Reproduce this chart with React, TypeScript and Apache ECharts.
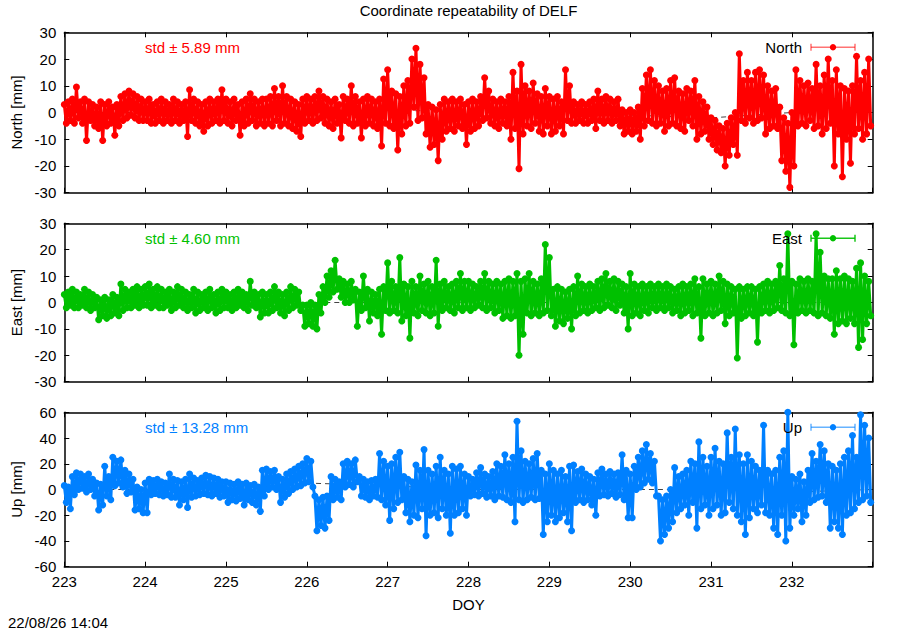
import React, { useEffect, useRef } from "react";
import * as echarts from "echarts";

// Sampling of the series (day of year): one sample every 0.025 day
const START_DOY = 223;
const STEP_DAYS = 0.025;

// North residuals [mm]
const north = [
  3, -4, 4, -3, 5, -4, 9.5, -2, 4, -4, 5, -10.5, 4, -3, 3, -5, 2, -6, 4, -10.5,
  3, -5, 4, -4, 2, -8.5, 3, -5, 6, -3, 7, -2, 8, -1, 7, -2, 6, -3, 5, -3,
  4, -3, 5, -4, 3, -4, 4, -3, 5, -4, 4, -3, 3, -4, 5, -3, 4, -4, 3, -3,
  4, -9, 8.5, -3, 5, -4, 4, -5, 3, -7, 4, -5, 5, -4, 4, -3, 5, -4, 8.5, -3,
  5, -4, 4, -5, 5, -3, 3, -8.5, 4, -5, 5, -4, 7, -3, 5, -5, 4, -4, 5, -5,
  5, -4, 6, -5, 9, -3, 6, -5, 10, -4, 6, -5, 5, -6, 4, -7, 3, -9, 5, -4,
  6, -3, 5, -4, 6, -3, 8, -2, 6, -4, 5, -5, 4, -6, 5, -4, 3, -9.5, 6, -3,
  5, -4, 10, -5, 6, -4, 4, -9.5, 5, -5, 6, -4, 5, -5, 4, -6, 5, -12.5, 12.5, -4,
  16, -5, 8, -6, 7, -14, 6, -8, 10, -5, 12, -4, 20, 2, 24, -3, 18, -2, 13, -8,
  3, -13, 2, -12, 1, -18, 3, -10, 5, -7, 4, -6, 5, -7, 4, -5, 5, -6, 3, -12,
  4, -7, 5, -6, 4, -5, 6, -3, 13, -2, 8, -4, 5, -5, 4, -6, 5, -4, 4, -5,
  6, -10, 15, -6, 8, -21, 18, -8, 10, -5, 8, -6, 11, -4, 7, -7, 6, -8, 9, -5,
  6, -8, 5, -7, 6, -5, 4, -8, 16, -3, 10, -4, 4, -4, 3, -3, 4, -4, 3, -4,
  4, -3, 5, -6, 8, -3, 5, -4, 6, -3, 5, -4, 4, -3, 5, -5, 1, -8, 0, -7,
  1, -8, 0, -7, 2, -10, 9, -5, 14, -3, 16, -4, 12, -5, 10, -4, 8, -7, 9, -5,
  12, -4, 13, -5, 8, -6, 7, -7, 9, -3, 8, -5, 12, -10, 6, -8, 4, -7, 2, -10,
  -2, -12, -3, -14, -5, -15, -6, -20, -4, -16, -2, -12, 0, -16, 22, -3, 12, -4, 15, -2,
  12, -4, 15, -3, 16, -2, 14, -8, 10, -6, 8, -5, 9, -6, 2, -18, -2, -22, -4, -28,
  0, -20, 16, -5, 12, -4, 10, -5, 11, -3, 9, -6, 18, -5, 10, -8, 14, -6, 20, -4,
  12, -20, 16, -8, 10, -24, 9, -10, 8, -19, 10, -8, 21, -6, 12, -10, 15, -8, 20, -5,
];

// East residuals [mm]
const east = [
  3, -2, 4, -1, 5, -2, 4, -2, 3, -1, 5, -2, 4, -3, 3, -2, 2, -6.5, 1, -5,
  2, -6, 1, -5, 3, -4, 2, -5, 7, -3, 5, -2, 4, -2, 5, -1, 6, -2, 5, -1,
  6, -1, 7, -2, 5, -1, 6, -2, 5, -2, 4, -1, 5, -3, 4, -2, 6, -1, 5, -2,
  4, -3, 3, -2, 5, -4, 4, -3, 3, -2, 4, -3, 5, -2, 3, -4, 4, -3, 5, -2,
  4, -2, 3, -3, 4, -2, 5, -1, 4, -2, 3, -3, 8, -1, 4, -2, 3, -5.5, 4, -4,
  3, -4, 4, -3, 6, -2, 4, -4, 3, -5, 4, -3, 6, -2, 5, -1, 4, -3, -1, -9,
  -1, -8, 0, -9, -1, -10, 3, -4, 6, 0, 10, 2, 12, 4, 16, 5, 9, 2, 8, 0,
  7, 0, 8, 1, 5, -9, 4, -3, 10, -2, 5, -7, 4, -4, 3, -5, 5, -12, 6, -3,
  15, -4, 8, -3, 6, -4, 17, -7, 7, -5, 6, -13.5, 8, -4, 6, -5, 10, -3, 7, -4,
  8, -5, 6, -4, 16, -9, 7, -3, 8, -2, 6, -3, 7, -4, 8, -2, 11, -3, 8, -2,
  8, -3, 7, -2, 6, -1, 8, -2, 11, -3, 8, -2, 7, -4, 8, -3, 7, -6, 8, -5,
  9, -6, 8, -5, 11, -20, 8, -12, 9, -4, 11, -5, 8, -4, 7, -5, 9, -4, 22, -3,
  17, -5, 5, -9, 6, -7, 5, -8, 4, -6, 5, -10, 6, -5, 10, -4, 7, -3, 6, -4,
  7, -3, 6, -2, 8, -3, 9, -2, 11, -1, 8, -2, 9, -3, 8, -1, 7, -4, 6, -10,
  11, -5, 7, -4, 6, -5, 7, -3, 6, -4, 7, -2, 6, -3, 7, -2, 6, -3, 7, -2,
  6, -4, 5, -3, 6, -5, 7, -4, 6, -3, 7, -5, 9, -4, 6, -13.5, 9, -5, 7, -4,
  8, -5, 7, -4, 10, -3, 8, -8, 7, -5, 6, -4, 5, -21, 6, -6, 5, -5, 6, -4,
  6, -5, 5, -15, 6, -4, 7, -3, 8, -4, 7, -3, 8, -2, 14, -3, 9, -4, 26, -5,
  8, -16, 7, -4, 9, -3, 8, -4, 9, -3, 8, -4, 26, -5, 19, -4, 10, -5, 9, -6,
  9, -12, 12, -8, 9, -7, 10, -8, 9, -6, 8, -8, 13, -17, 15, -14, 10, -8, 8, -5,
];

// Up residuals [mm]
const up = [
  3, -10, 2, -15, 10, -4, 13, 0, 12, 1, 10, -2, 12, 0, 8, -5, 5, -16, 4, -12,
  18, -5, 10, -8, 25, 3, 22, 5, 23, 2, 15, -3, 12, -2, 8, -16, 2, -15, 0, -18,
  5, -18, 8, -4, 7, -3, 8, -4, 6, -5, 5, -4, 12, -6, 8, -6, 7, -12, 6, -8,
  8, -14, 12, -6, 9, -5, 7, -4, 9, -3, 11, -4, 10, -5, 9, -3, 8, -6, 6, -5,
  6, -10, 5, -8, 4, -9, 6, -7, 4, -12, 5, -8, 3, -10, 4, -12, 2, -17, 15, -5,
  16, 0, 14, 2, 15, 0, 10, -10, 8, -6, 12, -3, 14, 0, 16, 2, 18, 3, 20, 5,
  24, 6, 22, 2, -5, -32, -8, -28, -6, -30, -5, -24, 10, -8, 8, -6, 6, -8, 20, 2,
  22, 4, 20, 2, 23, 6, 10, -5, 8, -6, 6, -8, 7, -5, 8, -6, 28, -8, 22, -12,
  18, -24, 20, -15, 25, -10, 29, -8, 10, -18, 8, -25, 6, -20, 19, -22, 15, -15, 31, -36,
  15, -20, 12, -18, 18, -22, 25, -15, 15, -20, 12, -34, 18, -20, 16, -18, 18, -15, 12, -20,
  10, -5, 8, -4, 13, -5, 17, -3, 12, -6, 10, -5, 14, -8, 20, -5, 18, -6, 27, -8,
  20, -10, 25, -25, 53, -8, 30, -10, 22, -8, 20, -6, 24, -8, 28, -7, 15, -35, 12, -25,
  20, -20, 15, -25, 12, -22, 15, -18, 10, -25, 18, -32, 19, -10, 14, -8, 16, -10, 12, -8,
  10, -12, 8, -20, 13, -5, 16, -4, 12, -5, 14, -3, 12, -6, 13, -4, 27, -8, 15, -22,
  12, -22, 18, 0, 25, 2, 30, 5, 35, 8, 28, 5, 22, -5, -5, -40, -8, -35, -5, -30,
  0, -25, 17, -18, 10, -15, 12, -12, 15, -20, 22, -10, 20, -30, 37, -15, 25, -12, 18, -20,
  25, -15, 32, -12, 22, -20, 20, -18, 44, -10, 25, -15, 47, -20, 27, -25, 20, -35, 27, -22,
  22, -15, 18, -18, 15, -12, 50, -18, 15, -20, 12, -30, 15, -35, 25, -20, 30, -40, 60, -30,
  10, -20, 8, -15, 12, -25, 6, -20, 15, -10, 28, -8, 22, -6, 35, -5, 30, -10, 20, -30,
  18, -25, 15, -30, 20, -35, 25, -20, 30, -18, 42, -15, 25, -10, 58, -8, 50, -5, 40, -10,
];

// Daily model/trend values drawn as a thin dark line behind the points
const trendDays = [223, 224, 225, 226, 227, 228, 229, 230, 231, 232, 233];
const trendNorth = [0, 0, 0, 0, 0.5, 1, 0, -1, -2, 0, 0];
const trendEast = [0, 0, 0, 0, 0, 0, 0, 0, 0, 0, 0];
const trendUp = [0, 0, 0, 5, 3, 0, 0, 0, 0, -2, 0];

const xTickLabels = [223, 224, 225, 226, 227, 228, 229, 230, 231, 232];

const stdLabels = ["std \u00b1 5.89 mm", "std \u00b1 4.60 mm", "std \u00b1 13.28 mm"];
const names = ["North", "East", "Up"];
const yTitles = ["North [mm]", "East [mm]", "Up [mm]"];

const FONT = "'Liberation Sans', Arial, Helvetica, sans-serif";
const FS = 15;

export default function App() {
  const ref = useRef<HTMLDivElement>(null);

  useEffect(() => {
    if (!ref.current) return;
    const chart = echarts.init(ref.current, undefined, { renderer: "svg" });

    const toPairs = (vals: number[]) =>
      vals.map((v, i) => [START_DOY + i * STEP_DAYS, v]);

    const panels = [
      { values: north, trend: trendNorth, color: "#ff0000", legendLine: "rgba(255,0,0,0.55)", min: -30, max: 30, interval: 10, top: 32.3, height: 160.4 },
      { values: east, trend: trendEast, color: "#00c000", legendLine: "rgba(0,192,0,0.9)", min: -30, max: 30, interval: 10, top: 223.3, height: 158.4 },
      { values: up, trend: trendUp, color: "#0080ff", legendLine: "rgba(0,128,255,0.6)", min: -60, max: 60, interval: 20, top: 412.3, height: 154.4 },
    ];

    const left = 64.3;
    const width = 808.4;

    const grids = panels.map((p) => ({
      left,
      top: p.top,
      width,
      height: p.height,
      show: false,
    }));

    const axisLine = { show: true, onZero: false, lineStyle: { color: "#000", width: 1.5 } };
    const axisTick = { show: true, inside: true, length: 5, lineStyle: { color: "#000", width: 1 } };
    const labelStyle = { color: "#000", fontSize: FS, fontFamily: FONT };

    const xAxes: any[] = [];
    const yAxes: any[] = [];
    panels.forEach((p, i) => {
      const isLast = i === panels.length - 1;
      xAxes.push({
        type: "value",
        gridIndex: i,
        position: "bottom",
        min: 223,
        max: 233,
        interval: 1,
        axisLine,
        axisTick,
        splitLine: { show: false },
        axisLabel: isLast
          ? {
              show: true,
              margin: 7,
              ...labelStyle,
              formatter: (v: number) => (xTickLabels.includes(v) ? String(v) : ""),
            }
          : { show: false },
        name: isLast ? "DOY" : "",
        nameLocation: "middle",
        nameGap: 30,
        nameTextStyle: { ...labelStyle },
      });
      xAxes.push({
        type: "value",
        gridIndex: i,
        position: "top",
        min: 223,
        max: 233,
        interval: 1,
        axisLine,
        axisTick,
        splitLine: { show: false },
        axisLabel: { show: false },
      });
      yAxes.push({
        type: "value",
        gridIndex: i,
        position: "left",
        min: p.min,
        max: p.max,
        interval: p.interval,
        axisLine,
        axisTick,
        splitLine: { show: false },
        axisLabel: { show: true, margin: 8, ...labelStyle },
        name: yTitles[i],
        nameLocation: "middle",
        nameGap: 40,
        nameTextStyle: { ...labelStyle },
      });
      yAxes.push({
        type: "value",
        gridIndex: i,
        position: "right",
        min: p.min,
        max: p.max,
        interval: p.interval,
        axisLine,
        axisTick,
        splitLine: { show: false },
        axisLabel: { show: false },
      });
    });

    const series: any[] = [];
    panels.forEach((p, i) => {
      series.push({
        type: "line",
        name: names[i] + " trend",
        xAxisIndex: 2 * i,
        yAxisIndex: 2 * i,
        data: trendDays.map((d, k) => [d, p.trend[k]]),
        showSymbol: false,
        lineStyle: { color: "#444", width: 1, type: [5, 4] },
        silent: true,
        z: 1,
      });
      series.push({
        type: "line",
        name: names[i],
        xAxisIndex: 2 * i,
        yAxisIndex: 2 * i,
        data: toPairs(p.values),
        symbol: "circle",
        symbolSize: 7,
        showSymbol: true,
        itemStyle: { color: p.color },
        lineStyle: { color: p.color, width: 3, join: "round", cap: "round" },
        silent: true,
        clip: true,
        z: 2,
      });
    });

    const graphics: any[] = [
      {
        type: "text",
        x: left + width / 2,
        y: 10,
        style: {
          text: "Coordinate repeatability of DELF",
          fill: "#000",
          font: `${FS}px ${FONT}`,
          textAlign: "center",
          textVerticalAlign: "middle",
        },
      },
      {
        type: "text",
        x: 8,
        y: 622,
        style: {
          text: "22/08/26 14:04",
          fill: "#000",
          font: `${FS}px ${FONT}`,
          textAlign: "left",
          textVerticalAlign: "middle",
        },
      },
    ];
    panels.forEach((p, i) => {
      const ly = p.top + 15;
      graphics.push({
        type: "text",
        x: 145,
        y: ly,
        z: 10,
        style: {
          text: stdLabels[i],
          fill: p.color,
          font: `${FS}px ${FONT}`,
          textAlign: "left",
          textVerticalAlign: "middle",
        },
      });
      graphics.push({
        type: "text",
        x: 802,
        y: ly,
        z: 10,
        style: {
          text: names[i],
          fill: "#000",
          font: `${FS}px ${FONT}`,
          textAlign: "right",
          textVerticalAlign: "middle",
        },
      });
      const x0 = 811;
      const x1 = 855;
      graphics.push({ type: "line", z: 10, shape: { x1: x0, y1: ly, x2: x1, y2: ly }, style: { stroke: p.legendLine, lineWidth: 1.5 } });
      graphics.push({ type: "line", z: 10, shape: { x1: x0, y1: ly - 3.5, x2: x0, y2: ly + 3.5 }, style: { stroke: p.legendLine, lineWidth: 1.5 } });
      graphics.push({ type: "line", z: 10, shape: { x1: x1, y1: ly - 3.5, x2: x1, y2: ly + 3.5 }, style: { stroke: p.legendLine, lineWidth: 1.5 } });
      graphics.push({ type: "circle", z: 10, shape: { cx: (x0 + x1) / 2, cy: ly, r: 3.2 }, style: { fill: p.color } });
    });

    chart.setOption({
      animation: false,
      backgroundColor: "#fff",
      grid: grids,
      xAxis: xAxes,
      yAxis: yAxes,
      series,
      graphic: graphics,
    });

    return () => chart.dispose();
  }, []);

  return (
    <div
      ref={ref}
      style={{ position: "fixed", left: 0, top: 0, width: 900, height: 630, background: "#fff" }}
    />
  );
}
